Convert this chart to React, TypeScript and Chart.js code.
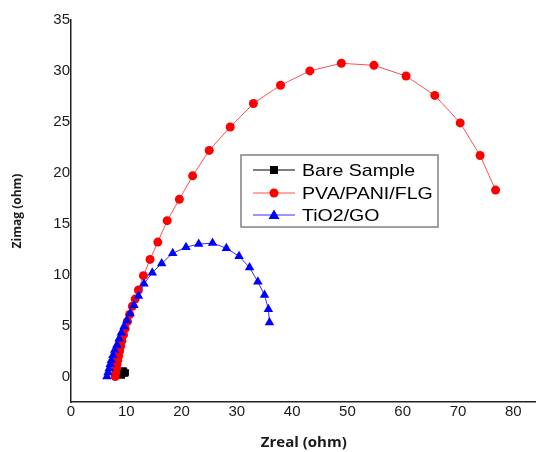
import React, { useEffect, useRef } from "react";
import { Chart, registerables } from "chart.js";

Chart.register(...registerables);

const seriesNames = ["Bare Sample", "PVA/PANI/FLG", "TiO2/GO"];

const bareX = [9.2, 9.4, 9.6, 9.8, 9.5, 9.9];
const bareY = [0.1, 0.3, 0.5, 0.3, 0.6, 0.4];

const pvaX = [8.0, 8.1, 8.2, 8.3, 8.45, 8.6, 8.8, 9.0, 9.2, 9.5, 9.8, 10.2, 10.6, 11.1, 11.6, 12.2, 13.1, 14.3, 15.7, 17.4, 19.6, 22.0, 25.0, 28.8, 33.0, 37.9, 43.2, 48.9, 54.8, 60.6, 65.8, 70.4, 74.0, 76.8];
const pvaY = [0.0, 0.4, 0.8, 1.2, 1.6, 2.0, 2.5, 3.0, 3.5, 4.1, 4.7, 5.4, 6.1, 6.9, 7.6, 8.5, 9.9, 11.5, 13.2, 15.3, 17.4, 19.7, 22.2, 24.5, 26.8, 28.6, 30.0, 30.75, 30.55, 29.5, 27.6, 24.9, 21.7, 18.3];

const tioX = [6.5, 6.7, 6.9, 7.1, 7.3, 7.6, 7.9, 8.3, 8.7, 9.1, 9.6, 10.1, 10.7, 11.4, 12.2, 13.2, 14.7, 16.4, 18.4, 20.8, 23.1, 25.6, 28.1, 30.4, 32.3, 33.8, 35.0, 35.7, 35.9];
const tioY = [0.0, 0.4, 0.8, 1.2, 1.6, 2.1, 2.6, 3.1, 3.7, 4.3, 4.9, 5.5, 6.2, 7.0, 7.9, 9.1, 10.2, 11.1, 12.1, 12.7, 13.0, 13.1, 12.6, 11.8, 10.7, 9.3, 8.0, 6.6, 5.3];

const xTicks = [0, 10, 20, 30, 40, 50, 60, 70, 80];
const yTicks = [0, 5, 10, 15, 20, 25, 30, 35];

const toPts = (xs: number[], ys: number[]) => xs.map((x, i) => ({ x, y: ys[i] }));

const legendPlugin = {
  id: "boxLegend",
  afterDraw(chart: any) {
    const ctx = chart.ctx;
    const x0 = 241, y0 = 155, w = 197, h = 72;
    ctx.save();
    ctx.fillStyle = "#ffffff";
    ctx.fillRect(x0, y0, w, h);
    ctx.strokeStyle = "#808080";
    ctx.lineWidth = 1.5;
    ctx.strokeRect(x0, y0, w, h);
    const rows = [170, 193, 215];
    const styles = [
      { line: "#000000", fill: "#000000", shape: "rect" },
      { line: "#ff5050", fill: "#ff0000", shape: "circle" },
      { line: "#3030ff", fill: "#0000ff", shape: "triangle" },
    ];
    seriesNames.forEach((name, i) => {
      const y = rows[i];
      const s = styles[i];
      ctx.strokeStyle = s.line;
      ctx.lineWidth = 1;
      ctx.beginPath();
      ctx.moveTo(253, y);
      ctx.lineTo(295, y);
      ctx.stroke();
      ctx.fillStyle = s.fill;
      const cx = 274;
      ctx.beginPath();
      if (s.shape === "rect") {
        ctx.rect(cx - 4, y - 4, 8, 8);
      } else if (s.shape === "circle") {
        ctx.arc(cx, y, 4.5, 0, Math.PI * 2);
      } else {
        ctx.moveTo(cx, y - 5.5);
        ctx.lineTo(cx + 5.5, y + 4);
        ctx.lineTo(cx - 5.5, y + 4);
        ctx.closePath();
      }
      ctx.fill();
      ctx.save();
      ctx.translate(302, y + 1);
      ctx.scale(1.15, 1);
      ctx.fillStyle = "#000000";
      ctx.font = '17px "Liberation Sans", Arial, sans-serif';
      ctx.textBaseline = "middle";
      ctx.textAlign = "left";
      ctx.fillText(name, 0, 0);
      ctx.restore();
    });
    ctx.restore();
  },
};

export default function App() {
  const ref = useRef<HTMLCanvasElement | null>(null);
  useEffect(() => {
    if (!ref.current) return;
    const chart = new Chart(ref.current, {
      type: "scatter",
      data: {
        datasets: [
          {
            label: seriesNames[0],
            data: toPts(bareX, bareY),
            showLine: true,
            borderColor: "#000000",
            backgroundColor: "#000000",
            borderWidth: 1,
            pointStyle: "rect",
            pointRadius: 4.5,
            pointBorderWidth: 0,
            order: 2,
          },
          {
            label: seriesNames[1],
            data: toPts(pvaX, pvaY),
            showLine: true,
            borderColor: "#ff5050",
            backgroundColor: "#ff0000",
            pointBackgroundColor: "#ff0000",
            pointBorderColor: "#ff0000",
            borderWidth: 1,
            pointStyle: "circle",
            pointRadius: 4.5,
            pointBorderWidth: 0,
            order: 1,
          },
          {
            label: seriesNames[2],
            data: toPts(tioX, tioY),
            showLine: true,
            borderColor: "#3030ff",
            backgroundColor: "#0000ff",
            pointBackgroundColor: "#0000ff",
            pointBorderColor: "#0000ff",
            borderWidth: 1,
            pointStyle: "triangle",
            pointRadius: 5.5,
            pointBorderWidth: 0,
            order: 0,
          },
        ],
      },
      options: {
        animation: false,
        responsive: false,
        layout: { padding: { top: 20, right: 0, left: 0, bottom: 0 } },
        plugins: { legend: { display: false }, tooltip: { enabled: false } },
        scales: {
          x: {
            type: "linear",
            min: 0,
            max: 84.2,
            grid: { display: false, drawTicks: false },
            border: { display: true, color: "#222", width: 1.5 },
            afterBuildTicks: (s: any) => {
              s.ticks = xTicks.map((v) => ({ value: v }));
            },
            afterFit: (s: any) => {
              s.height = 50;
            },
            ticks: {
              padding: 1,
              color: "#1a1a1a",
              font: { family: '"Liberation Sans", Arial, sans-serif', size: 15 },
              maxRotation: 0,
            },
            title: {
              display: true,
              text: "Zreal (ohm)",
              color: "#1a1a1a",
              font: { family: '"Open Sans", sans-serif', size: 15, weight: "bold" },
              padding: { top: 0, bottom: 0 },
            },
          },
          y: {
            type: "linear",
            min: -2.5,
            max: 35,
            grid: { display: false, drawTicks: false },
            border: { display: true, color: "#222", width: 1.5 },
            afterBuildTicks: (s: any) => {
              s.ticks = yTicks.map((v) => ({ value: v }));
            },
            afterFit: (s: any) => {
              s.width = 71;
            },
            ticks: {
              padding: 1,
              color: "#1a1a1a",
              font: { family: '"Liberation Sans", Arial, sans-serif', size: 15 },
            },
            title: {
              display: true,
              text: "Zimag (ohm)",
              color: "#1a1a1a",
              font: { family: '"Open Sans", sans-serif', size: 12, weight: "bold" },
              padding: { top: 10, bottom: 0 },
            },
          },
        },
      },
      plugins: [legendPlugin],
    });
    return () => chart.destroy();
  }, []);
  return (
    <div style={{ position: "absolute", left: 0, top: 0, width: 536, height: 452, overflow: "hidden", background: "#fff" }}>
      <canvas ref={ref} width={542} height={452} style={{ display: "block" }} />
    </div>
  );
}
